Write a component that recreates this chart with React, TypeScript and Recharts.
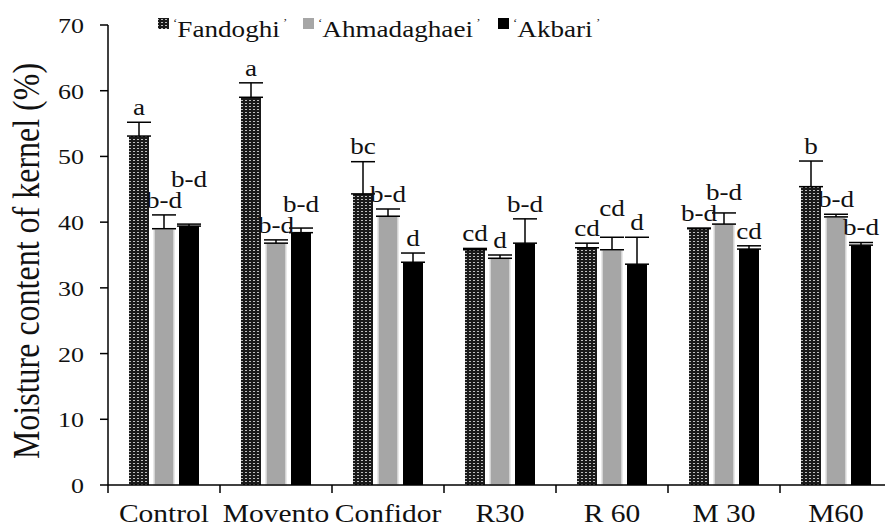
import React from 'react';
import { BarChart, Bar, XAxis, YAxis, ErrorBar, LabelList, Legend } from 'recharts';

const categories = ['Control', 'Movento', 'Confidor', 'R30', 'R 60', 'M 30', 'M60'];
const yTicks = [0, 10, 20, 30, 40, 50, 60, 70];
const seriesNames = ['Fandoghi', 'Ahmadaghaei', 'Akbari'];

const fandoghi = [53.1, 59.0, 44.3, 35.8, 36.1, 39.0, 45.4];
const fandoghiErr = [2.1, 2.2, 4.9, 0.2, 0.7, 0.1, 3.9];
const fandoghiLetters = ['a', 'a', 'bc', 'cd', 'cd', 'b-d', 'b'];

const ahmadaghaei = [39.0, 36.8, 40.9, 34.5, 35.8, 39.7, 40.8];
const ahmadaghaeiErr = [2.1, 0.5, 1.1, 0.5, 1.9, 1.7, 0.4];
const ahmadaghaeiLetters = ['b-d', 'b-d', 'b-d', 'd', 'cd', 'b-d', 'b-d'];

const akbari = [39.4, 38.4, 33.9, 36.8, 33.6, 35.9, 36.5];
const akbariErr = [0.3, 0.7, 1.4, 3.7, 4.1, 0.5, 0.4];
const akbariLetters = ['b-d', 'b-d', 'd', 'b-d', 'd', 'cd', 'b-d'];

const FONT = "'Liberation Serif', 'Times New Roman', serif";
const SX = 1.18;
const LABEL_FONT = 23;
const GAP_U = 1.1;
const H_U = 3.1;
const SPACING = 25.5;

const series = [
  { vals: fandoghi, errs: fandoghiErr, letters: fandoghiLetters },
  { vals: ahmadaghaei, errs: ahmadaghaeiErr, letters: ahmadaghaeiLetters },
  { vals: akbari, errs: akbariErr, letters: akbariLetters },
];

const data = categories.map((c, i) => ({
  name: c,
  f: fandoghi[i],
  fE: [0, fandoghiErr[i]],
  a: ahmadaghaei[i],
  aE: [0, ahmadaghaeiErr[i]],
  k: akbari[i],
  kE: [0, akbariErr[i]],
}));

function textW(s: string) {
  let w = 0;
  for (const ch of s) w += ch === '-' ? 0.333 : 0.5;
  return w * LABEL_FONT * SX;
}

const levels: number[][] = series.map(() => []);
categories.forEach((_, i) => {
  series.forEach((s, j) => {
    let lv = s.vals[i] + s.errs[i] + GAP_U;
    if (j > 0) {
      const p = series[j - 1];
      const plv = levels[j - 1][i];
      const overlapX = (textW(p.letters[i]) + textW(s.letters[i])) / 2 > SPACING;
      if (overlapX && Math.abs(lv - plv) < H_U) lv = plv + H_U;
    }
    levels[j][i] = lv;
  });
});

const textStyle = (size: number): React.CSSProperties => ({
  fontFamily: FONT,
  fontSize: size,
  fill: '#111',
});

const makeLabel = (j: number) => (props: any) => {
  const vb = props.viewBox || {};
  const x = Number(props.x ?? vb.x);
  const y = Number(props.y ?? vb.y);
  const width = Number(props.width ?? vb.width);
  const height = Number(props.height ?? vb.height);
  const index = props.index;
  const v = series[j].vals[index];
  const k = height / v;
  const cx = x + width / 2;
  const by = y + height - levels[j][index] * k;
  return (
    <text
      transform={`translate(${cx},${by}) scale(${SX},1)`}
      textAnchor="middle"
      style={textStyle(LABEL_FONT)}
    >
      {series[j].letters[index]}
    </text>
  );
};

const XTick = (props: any) => {
  const { x, y, payload } = props;
  const half = payload && typeof payload.offset === 'number' ? payload.offset : 56;
  const bx = x - half;
  return (
    <g>
      <line x1={bx} y1={y - 8} x2={bx} y2={y} stroke="#000" strokeWidth={1.5} />
      <text
        transform={`translate(${x},${y + 29}) scale(${SX},1)`}
        textAnchor="middle"
        style={textStyle(25)}
      >
        {payload.value}
      </text>
    </g>
  );
};

const YTick = (props: any) => {
  const { x, y, payload } = props;
  return (
    <text
      transform={`translate(${x},${y + 8}) scale(${SX},1)`}
      textAnchor="end"
      style={textStyle(22)}
    >
      {payload.value}
    </text>
  );
};

const PatternDef = ({ id }: { id: string }) => (
  <pattern id={id} width={4} height={3} patternUnits="userSpaceOnUse">
    <rect width={4} height={3} fill="#1a1a1a" />
    <rect x={1} y={1} width={2} height={1} fill="#bdbdbd" />
  </pattern>
);

const renderLegend = () => {
  const items = [
    { x: 158, fill: 'url(#legPat)', name: seriesNames[0] },
    { x: 303, fill: '#a6a6a6', name: seriesNames[1] },
    { x: 498, fill: '#000', name: seriesNames[2] },
  ];
  return (
    <svg width={700} height={45}>
      <defs>
        <PatternDef id="legPat" />
      </defs>
      {items.map((it) => (
        <g key={it.name}>
          <rect x={it.x} y={18} width={11} height={11} fill={it.fill} />
          <text transform={`translate(${it.x + 15},37) scale(${SX},1)`} style={textStyle(23)}>
            <tspan fontSize={11} dy={-11}>{'\u2018'}</tspan>
            <tspan dy={11}>{it.name}</tspan>
            <tspan fontSize={11} dy={-11}>{' \u2019'}</tspan>
          </text>
        </g>
      ))}
    </svg>
  );
};

export default function App() {
  return (
    <div
      style={{
        position: 'absolute',
        left: 0,
        top: 0,
        width: 885,
        height: 527,
        overflow: 'hidden',
        background: '#fff',
      }}
    >
      <BarChart
        width={900}
        height={527}
        data={data}
        margin={{ top: 25, right: 8, bottom: 0, left: 0 }}
        barSize={20}
        barGap={5}
      >
        <defs>
          <PatternDef id="fandPat" />
        </defs>
        <Legend
          layout="horizontal"
          verticalAlign="middle"
          align="center"
          content={renderLegend}
          wrapperStyle={{ position: 'absolute', top: 0, left: 0, width: 700, height: 45 }}
        />
        <XAxis
          dataKey="name"
          height={42}
          tickLine={false}
          axisLine={{ stroke: '#000', strokeWidth: 1.5 }}
          tick={<XTick />}
          interval={0}
        />
        <YAxis
          width={108}
          domain={[0, 70]}
          ticks={yTicks}
          tickSize={8}
          tickMargin={16}
          tickLine={{ stroke: '#000', strokeWidth: 1.5 }}
          axisLine={{ stroke: '#000', strokeWidth: 1.5 }}
          tick={<YTick />}
          label={({ viewBox }: any) => (
            <text
              transform={`translate(27,${viewBox.y + viewBox.height / 2 + 6}) scale(${SX},1) rotate(-90)`}
              textAnchor="middle"
              dominantBaseline="central"
              style={textStyle(32)}
            >
              Moisture content of kernel (%)
            </text>
          )}
        />
        <Bar dataKey="f" name={seriesNames[0]} fill="url(#fandPat)" isAnimationActive={false}>
          <ErrorBar dataKey="fE" width={12} stroke="#000" strokeWidth={1.5} direction="y" />
          <LabelList dataKey="f" content={makeLabel(0)} />
        </Bar>
        <Bar
          dataKey="a"
          name={seriesNames[1]}
          fill="#a6a6a6"
          stroke="#e2e2e2"
          strokeWidth={1.5}
          isAnimationActive={false}
        >
          <ErrorBar dataKey="aE" width={12} stroke="#000" strokeWidth={1.5} direction="y" />
          <LabelList dataKey="a" content={makeLabel(1)} />
        </Bar>
        <Bar dataKey="k" name={seriesNames[2]} fill="#000" isAnimationActive={false}>
          <ErrorBar dataKey="kE" width={12} stroke="#000" strokeWidth={1.5} direction="y" />
          <LabelList dataKey="k" content={makeLabel(2)} />
        </Bar>
      </BarChart>
    </div>
  );
}
